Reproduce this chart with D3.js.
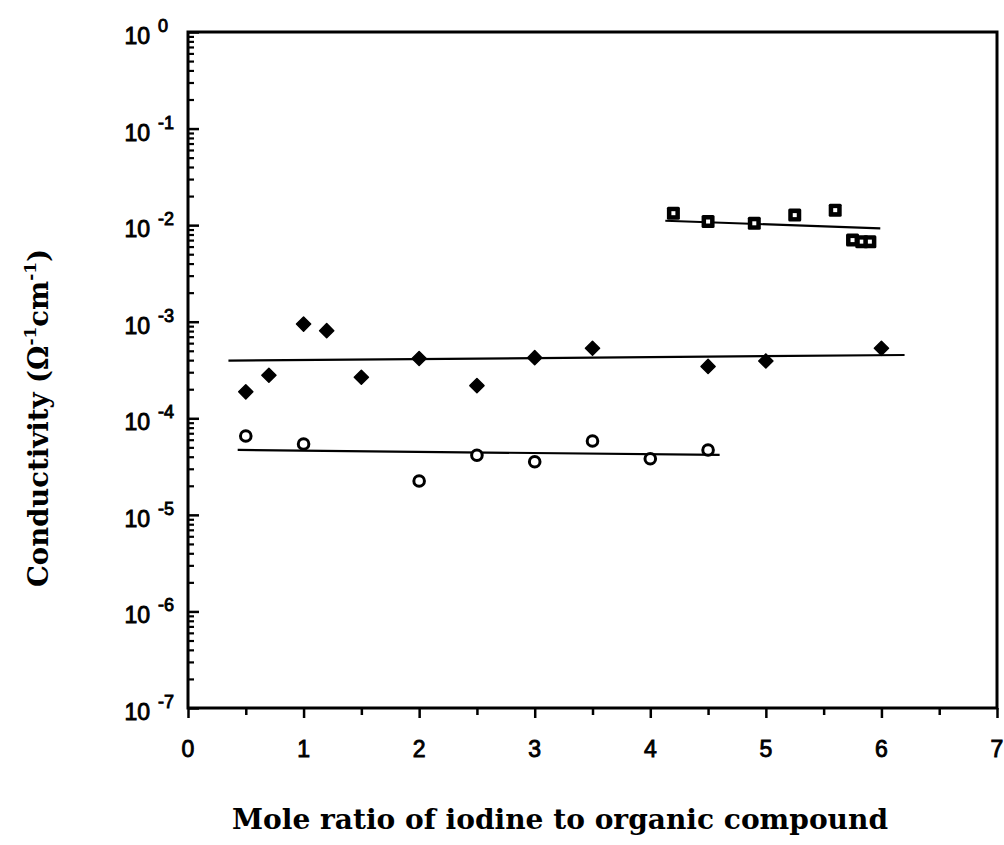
<!DOCTYPE html>
<html>
<head>
<meta charset="utf-8">
<script src="https://cdn.jsdelivr.net/npm/d3@7"></script>
<style>
  body { margin: 0; background: #fff; }
</style>
</head>
<body>
<script>
// values
var diamondX = [0.5, 0.7, 1.0, 1.2, 1.5, 2.0, 2.5, 3.0, 3.5, 4.5, 5.0, 6.0];
var diamondY = [1.88e-4, 2.79e-4, 9.46e-4, 8.07e-4, 2.66e-4, 4.16e-4, 2.18e-4, 4.24e-4, 5.31e-4, 3.44e-4, 3.92e-4, 5.31e-4];

var circleX = [0.5, 1.0, 2.0, 2.5, 3.0, 3.5, 4.0, 4.5];
var circleY = [6.56e-5, 5.42e-5, 2.24e-5, 4.14e-5, 3.55e-5, 5.82e-5, 3.81e-5, 4.70e-5];

var squareX = [4.2, 4.5, 4.9, 5.25, 5.6, 5.75, 5.83, 5.9];
var squareY = [1.33e-2, 1.09e-2, 1.045e-2, 1.27e-2, 1.43e-2, 7.0e-3, 6.75e-3, 6.75e-3];

// fitted lines (end points)
var diamondFitX = [0.35, 6.2],  diamondFitY = [3.95e-4, 4.52e-4];
var circleFitX  = [0.43, 4.6],  circleFitY  = [4.70e-5, 4.17e-5];
var squareFitX  = [4.13, 5.99], squareFitY  = [1.11e-2, 9.27e-3];

var xTicks = [0, 1, 2, 3, 4, 5, 6, 7];
var xMinorTicks = [0.5, 1.5, 2.5, 3.5, 4.5, 5.5, 6.5];
var yExponents = [0, -1, -2, -3, -4, -5, -6, -7];

var W = 1004, H = 845;
var plotLeft = 188, plotRight = 997, plotTop = 32, plotBottom = 708;

var svg = d3.select('body').append('svg')
    .attr('width', W)
    .attr('height', H);

var xScale = d3.scaleLinear().domain([0, 7]).range([plotLeft, plotRight]);
var yScale = d3.scaleLog().domain([1e-7, 1]).range([plotBottom, plotTop]);

// x axis ticks (outside)
svg.append('g')
    .attr('transform', 'translate(0,' + plotBottom + ')')
    .call(d3.axisBottom(xScale).tickValues(xMinorTicks).tickSize(7).tickFormat(''))
    .call(function(g) { g.select('.domain').remove(); })
    .selectAll('line').attr('stroke', '#000').attr('stroke-width', 2.5);

svg.append('g')
    .attr('transform', 'translate(0,' + plotBottom + ')')
    .call(d3.axisBottom(xScale).tickValues(xTicks).tickSize(10).tickFormat(''))
    .call(function(g) { g.select('.domain').remove(); })
    .selectAll('line').attr('stroke', '#000').attr('stroke-width', 2.5);

svg.selectAll('.xlab')
    .data(xTicks)
  .enter().append('text')
    .attr('class', 'xlab')
    .attr('x', function(d) { return xScale(d); })
    .attr('y', 757)
    .attr('text-anchor', 'middle')
    .style('font-family', 'Liberation Sans, Arial, sans-serif')
    .style('font-size', '23px')
    .style('stroke', '#000').style('stroke-width', 0.9)
    .text(function(d) { return d; });

// y axis ticks (inside)
var allY = yScale.ticks();
var majorY = allY.filter(function(d) { return Math.abs(Math.log10(d) - Math.round(Math.log10(d))) < 1e-6; });
var minorY = allY.filter(function(d) { return majorY.indexOf(d) < 0; });

svg.append('g')
    .attr('transform', 'translate(' + plotLeft + ',0)')
    .call(d3.axisLeft(yScale).tickValues(minorY).tickSize(-6).tickFormat(''))
    .call(function(g) { g.select('.domain').remove(); })
    .selectAll('line').attr('stroke', '#000').attr('stroke-width', 2.2);

svg.append('g')
    .attr('transform', 'translate(' + plotLeft + ',0)')
    .call(d3.axisLeft(yScale).tickValues(majorY).tickSize(-11).tickFormat(''))
    .call(function(g) { g.select('.domain').remove(); })
    .selectAll('line').attr('stroke', '#000').attr('stroke-width', 2.5);

var ylab = svg.selectAll('.ylab')
    .data(yExponents)
  .enter().append('g')
    .attr('class', 'ylab')
    .attr('transform', function(d) { return 'translate(0,' + yScale(Math.pow(10, d)) + ')'; })
    .style('font-family', 'Liberation Sans, Arial, sans-serif')
    .style('stroke', '#000').style('stroke-width', 0.9);

ylab.append('text')
    .attr('x', 150)
    .attr('y', 12)
    .attr('text-anchor', 'end')
    .style('font-size', '23px')
    .text('10');

ylab.append('text')
    .attr('x', 158)
    .attr('y', 0)
    .style('font-size', '18px')
    .text(function(d) { return d === 0 ? '0' : '-' + Math.abs(d); });

// frame
svg.append('rect')
    .attr('x', plotLeft)
    .attr('y', plotTop)
    .attr('width', plotRight - plotLeft)
    .attr('height', plotBottom - plotTop)
    .attr('fill', 'none')
    .attr('stroke', '#000')
    .attr('stroke-width', 3);

// fitted lines
var line = d3.line()
    .x(function(d) { return xScale(d[0]); })
    .y(function(d) { return yScale(d[1]); });

[[diamondFitX, diamondFitY], [circleFitX, circleFitY], [squareFitX, squareFitY]].forEach(function(f) {
    svg.append('path')
        .datum(d3.zip(f[0], f[1]))
        .attr('d', line)
        .attr('fill', 'none')
        .attr('stroke', '#000')
        .attr('stroke-width', 2.2);
});

// diamonds (filled)
svg.selectAll('.dia')
    .data(d3.zip(diamondX, diamondY))
  .enter().append('path')
    .attr('class', 'dia')
    .attr('d', d3.symbol().type(d3.symbolSquare).size(100))
    .attr('transform', function(d) { return 'translate(' + xScale(d[0]) + ',' + yScale(d[1]) + ') rotate(45)'; })
    .attr('fill', '#000')
    .attr('stroke', '#000')
    .attr('stroke-width', 1.5)
    .attr('stroke-linejoin', 'round');

// open circles
svg.selectAll('.circ')
    .data(d3.zip(circleX, circleY))
  .enter().append('circle')
    .attr('class', 'circ')
    .attr('cx', function(d) { return xScale(d[0]); })
    .attr('cy', function(d) { return yScale(d[1]); })
    .attr('r', 5.3)
    .attr('fill', '#fff')
    .attr('stroke', '#000')
    .attr('stroke-width', 3);

// dotted squares
var sq = svg.selectAll('.sq')
    .data(d3.zip(squareX, squareY))
  .enter().append('g')
    .attr('class', 'sq')
    .attr('transform', function(d) { return 'translate(' + xScale(d[0]) + ',' + yScale(d[1]) + ')'; });

sq.append('rect')
    .attr('x', -6.5).attr('y', -6.5)
    .attr('width', 13).attr('height', 13)
    .attr('rx', 1.5)
    .attr('fill', '#000');

sq.append('rect')
    .attr('x', -2).attr('y', -2)
    .attr('width', 4).attr('height', 4)
    .attr('fill', '#fff');

// axis titles
svg.append('text')
    .attr('x', 560)
    .attr('y', 829)
    .attr('text-anchor', 'middle')
    .attr('textLength', 656)
    .attr('lengthAdjust', 'spacingAndGlyphs')
    .style('font-family', 'DejaVu Serif, serif')
    .style('font-weight', 'bold')
    .style('font-size', '28px')
    .text('Mole ratio of iodine to organic compound');

var yt = svg.append('text')
    .attr('transform', 'translate(48,418) rotate(-90)')
    .attr('text-anchor', 'middle')
    .style('font-family', 'DejaVu Serif, serif')
    .style('font-weight', 'bold')
    .style('font-size', '27.5px');

yt.append('tspan').text('Conductivity (\u03A9');
yt.append('tspan').attr('dy', -12).style('font-size', '17px').text('-1');
yt.append('tspan').attr('dy', 12).text('cm');
yt.append('tspan').attr('dy', -12).style('font-size', '17px').text('-1');
yt.append('tspan').attr('dy', 12).text(')');
</script>
</body>
</html>
